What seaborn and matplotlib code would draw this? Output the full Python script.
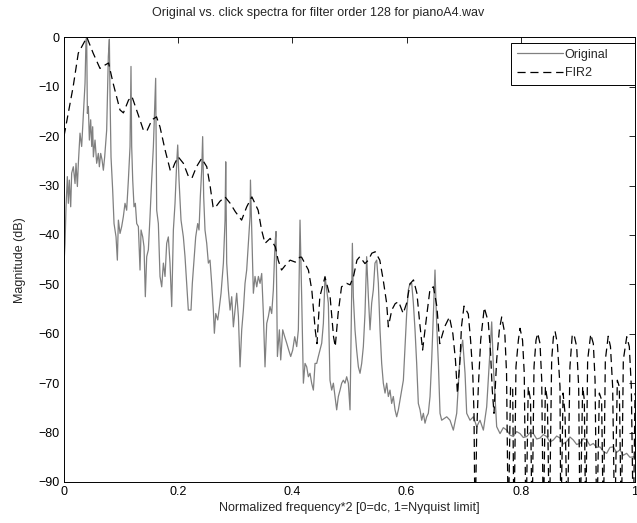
import matplotlib
matplotlib.use("Agg")
import matplotlib.pyplot as plt
import seaborn as sns
import pandas as pd

# values
orig_freq = [
    0.000, 0.0018, 0.0035, 0.0058, 0.0076, 0.0093, 0.0117, 0.0134, 0.0163, 0.0193,
    0.0210, 0.0234, 0.0251, 0.0280, 0.0309, 0.0339, 0.0368, 0.0385, 0.0397, 0.0409,
    0.0426, 0.0444, 0.0467, 0.0485, 0.0502, 0.0514, 0.0543, 0.0572, 0.0601, 0.0619,
    0.0642, 0.0666, 0.0689, 0.0712, 0.0747, 0.0776, 0.0794, 0.0806, 0.0823, 0.0852,
    0.0876, 0.0911, 0.0934, 0.0952, 0.0981, 0.1010, 0.1039, 0.1068, 0.1097, 0.1127,
    0.1156, 0.1173, 0.1185, 0.1203, 0.1226, 0.1249, 0.1273, 0.1302, 0.1331, 0.1349,
    0.1378, 0.1401, 0.1424, 0.1448, 0.1477, 0.1506, 0.1535, 0.1565, 0.1605,
    0.1623, 0.1652, 0.1681, 0.1711, 0.1740, 0.1769, 0.1798, 0.1827, 0.1856, 0.1886,
    0.1915, 0.1944, 0.1973, 0.1991, 0.2014, 0.2049, 0.2090, 0.2119, 0.2148, 0.2177,
    0.2224, 0.2247, 0.2282, 0.2306, 0.2341, 0.2364, 0.2387, 0.2411, 0.2428, 0.2446,
    0.2469, 0.2499, 0.2528, 0.2557, 0.2586, 0.2615, 0.2633, 0.2657, 0.2692, 0.2715,
    0.2750, 0.2791, 0.2820, 0.2832, 0.2849, 0.2878, 0.2908, 0.2937, 0.2966, 0.2995,
    0.3024, 0.3054, 0.3083, 0.3112, 0.3141, 0.3170, 0.3199, 0.3229, 0.3258, 0.3265,
    0.3287, 0.3316, 0.3345, 0.3375, 0.3404, 0.3433, 0.3462, 0.3491, 0.3520, 0.3550,
    0.3579, 0.3608, 0.3637, 0.3666, 0.3695, 0.3713, 0.3737, 0.3772, 0.3795, 0.3830,
    0.3865, 0.3900, 0.3935, 0.3970, 0.4005, 0.4040, 0.4075, 0.4104, 0.4133, 0.4162,
    0.4192, 0.4221, 0.4250, 0.4279, 0.4308, 0.4337, 0.4367, 0.4396, 0.4425, 0.4454,
    0.4483, 0.4513, 0.4542, 0.4571, 0.4600, 0.4629, 0.4658, 0.4688, 0.4717, 0.4746,
    0.4775, 0.4804, 0.4834, 0.4863, 0.4892, 0.4921, 0.4950, 0.4979,
    0.5009, 0.5038, 0.5050, 0.5067, 0.5096, 0.5125, 0.5155, 0.5184, 0.5213, 0.5242,
    0.5271, 0.5300, 0.5330, 0.5359, 0.5388, 0.5417, 0.5446, 0.5476, 0.5505, 0.5534,
    0.5563, 0.5592, 0.5622, 0.5651, 0.5680, 0.5709, 0.5738, 0.5767, 0.5797, 0.5826,
    0.5855, 0.5884, 0.5913, 0.5943, 0.5972, 0.6001, 0.6030, 0.6059, 0.6089, 0.6118,
    0.6147, 0.6176, 0.6205, 0.6235, 0.6264, 0.6293, 0.6322, 0.6351, 0.6380, 0.6410,
    0.6439, 0.6468, 0.6497, 0.6526, 0.6556, 0.6585, 0.6614,
    0.6702, 0.6760, 0.6818, 0.6877, 0.6935, 0.6982, 0.7023, 0.7052, 0.7110, 0.7169,
    0.7227, 0.7285, 0.7344, 0.7402, 0.7461, 0.7490, 0.7519, 0.7577, 0.7636, 0.7694,
    0.7752, 0.7811, 0.7869, 0.7927, 0.7986, 0.8044, 0.8103, 0.8161, 0.8219, 0.8278,
    0.8336, 0.8394, 0.8453, 0.8511, 0.8569, 0.8628, 0.8686, 0.8744, 0.8803, 0.8861,
    0.8919, 0.8978, 0.9036, 0.9094, 0.9153, 0.9211, 0.9269, 0.9328, 0.9386, 0.9444,
    0.9503, 0.9561, 0.9619, 0.9678, 0.9736, 0.9794, 0.9853, 0.9911, 0.9969, 1.0,
]
orig_db = [
    -45.7, -41.7, -34.3, -28.2, -33.6, -28.9, -34.3, -27.5, -26.2, -29.6,
    -25.5, -30.2, -25.5, -19.4, -22.1, -15.4, -9.3, -0.5, 0.0, -15.4,
    -14.0, -20.8, -16.7, -22.1, -18.1, -24.2, -20.8, -25.5, -23.5, -26.2,
    -23.5, -24.8, -26.9, -24.2, -18.8, -3.9, -0.4, -12.0, -24.2, -30.9,
    -37.7, -40.4, -45.1, -37.0, -39.7, -38.3, -36.3, -33.6, -35.0, -28.9,
    -22.1, -5.9, -22.1, -28.9, -34.3, -33.6, -37.7, -38.3, -47.1, -39.0,
    -40.4, -42.4, -52.5, -44.4, -43.0, -36.3, -28.9, -22.1, -8.3,
    -35.0, -37.7, -48.4, -50.5, -45.7, -48.4, -41.7, -40.4, -45.7, -54.5,
    -39.0, -33.6, -25.5, -21.8, -28.9, -37.0, -40.4, -44.4, -49.8, -55.2,
    -55.2, -49.8, -44.4, -40.4, -37.7, -39.0, -32.3, -26.9, -20.1, -32.3,
    -39.0, -41.7, -45.7, -45.1, -49.8, -55.2, -59.9, -55.9, -57.2, -55.2,
    -51.8, -45.7, -37.0, -25.2, -45.7, -51.1, -55.2, -52.5, -58.6, -55.2,
    -51.8, -56.5, -66.7, -59.2, -55.2, -49.8, -47.1, -41.7, -36.3, -28.9,
    -39.0, -51.8, -48.4, -50.5, -48.4, -49.8, -47.8, -55.9, -66.7, -57.9,
    -56.5, -54.5, -55.9, -51.1, -41.7, -39.3, -64.6, -59.2, -65.3, -59.2,
    -60.6, -61.9, -63.3, -64.6, -63.3, -60.6, -62.6, -59.2, -37.0, -52.5,
    -70.0, -66.0, -66.7, -68.7, -68.0, -70.0, -71.4, -66.0, -66.0, -64.6,
    -63.3, -61.9, -57.9, -48.4, -51.1, -53.8, -69.4, -71.4, -70.0, -72.7,
    -75.4, -72.7, -71.4, -70.0, -69.4, -70.0, -68.7, -70.0,
    -75.4, -51.1, -41.7, -52.5, -59.2, -63.3, -66.7, -68.0, -66.0, -62.6,
    -55.9, -44.4, -52.5, -59.2, -53.8, -51.1, -45.7, -45.1, -49.8, -59.2,
    -66.0, -70.0, -72.0, -70.0, -72.7, -71.4, -74.1, -72.7, -75.4, -76.8,
    -75.4, -73.4, -71.4, -69.4, -62.6, -55.9, -51.1, -49.8, -49.8, -53.8,
    -59.2, -66.0, -74.1, -75.4, -77.5, -76.1, -78.1, -76.8, -76.1, -72.7,
    -65.3, -55.9, -47.1, -57.9, -66.0, -76.1, -77.5,
    -76.8, -77.5, -79.5, -76.1, -64.6, -61.3, -68.0, -76.1, -77.5, -76.8,
    -78.8, -77.5, -79.5, -74.8, -63.3, -57.6, -66.6, -78.8, -80.2, -79.0,
    -79.5, -80.5, -80.8, -79.8, -80.2, -81.0, -80.8, -80.0, -80.2, -81.3,
    -81.1, -80.4, -80.8, -81.9, -81.5, -80.7, -81.1, -82.3, -81.8, -80.9,
    -81.5, -82.4, -82.2, -81.2, -81.5, -82.6, -82.2, -83.0, -82.9, -83.8,
    -84.2, -83.0, -82.9, -84.0, -83.5, -84.6, -84.2, -85.0, -84.9, -85.0,
]

fir_freq = [
    0.000, 0.016, 0.025, 0.040, 0.051, 0.063, 0.072, 0.078, 0.086, 0.092,
    0.098, 0.104, 0.113, 0.119, 0.130, 0.139, 0.145, 0.154, 0.162,
    0.168, 0.177, 0.186, 0.189, 0.194, 0.200, 0.209, 0.218, 0.224, 0.232,
    0.241, 0.250, 0.256, 0.261, 0.264, 0.273, 0.282, 0.291, 0.300, 0.311,
    0.320, 0.329, 0.340, 0.346, 0.352, 0.361, 0.370, 0.375, 0.381, 0.390,
    0.396, 0.405, 0.413, 0.416, 0.428, 0.434, 0.440, 0.443, 0.448, 0.457,
    0.466, 0.472, 0.475, 0.480, 0.486, 0.495, 0.501, 0.507, 0.513, 0.518,
    0.527, 0.533, 0.539, 0.545, 0.553, 0.559, 0.565, 0.568, 0.574, 0.580,
    0.586, 0.594, 0.600, 0.606, 0.612, 0.618, 0.623, 0.628, 0.635, 0.641,
    0.647, 0.653, 0.658, 0.6665, 0.675, 0.681, 0.6855, 0.689, 0.6935, 0.696,
    0.7005, 0.708, 0.712, 0.7158, 0.718, 0.7198, 0.7227, 0.7256, 0.7297, 0.736,
    0.743, 0.747, 0.750, 0.753, 0.7577, 0.7624, 0.7665, 0.772, 0.775, 0.778,
    0.782, 0.7857, 0.788, 0.7915, 0.7957, 0.7986, 0.803, 0.806, 0.809, 0.813,
    0.817, 0.8196, 0.8231, 0.8266, 0.8296, 0.8336, 0.8366, 0.8395, 0.843, 0.8465,
    0.850, 0.854, 0.857, 0.860, 0.864, 0.8686, 0.870, 0.874, 0.8774, 0.8815,
    0.886, 0.890, 0.893, 0.8978, 0.9013, 0.9037, 0.9083, 0.9112, 0.9136, 0.917,
    0.9224, 0.927, 0.930, 0.933, 0.9375, 0.9415, 0.9445, 0.948, 0.953, 0.957,
    0.9608, 0.9644, 0.969, 0.9725, 0.976, 0.9795, 0.9855, 0.990, 0.9935, 0.997,
    1.0,
]
fir_db = [
    -20.0, -10.0, -3.2, 0.0, -3.2, -6.3, -5.6, -5.2, -9.3, -12.0,
    -14.7, -15.3, -12.7, -12.0, -15.7, -18.8, -19.0, -16.7, -16.1,
    -18.1, -22.8, -26.9, -27.0, -25.5, -24.2, -25.5, -28.2, -28.5, -26.2,
    -24.5, -26.2, -30.2, -34.3, -34.6, -33.2, -32.3, -33.6, -35.3, -37.0,
    -34.3, -32.3, -35.0, -39.0, -41.7, -40.7, -42.4, -45.1, -47.1, -45.8,
    -45.1, -45.5, -44.5, -44.5, -47.1, -51.2, -59.3, -62.0, -52.5, -48.5,
    -52.5, -60.6, -62.6, -55.9, -50.5, -49.8, -50.1, -48.4, -45.1, -44.4,
    -45.8, -45.1, -43.7, -43.4, -45.1, -49.1, -53.8, -58.6, -55.2, -53.9,
    -53.5, -55.9, -53.8, -49.9, -49.1, -51.8, -57.9, -63.3, -56.5, -50.9,
    -50.5, -54.5, -62.0, -58.6, -56.6, -60.0, -65.3, -72.1, -65.3, -58.6,
    -54.4, -56.0, -61.3, -68.0, -76.1, -100.0, -80.2, -70.7, -61.3, -54.7,
    -57.6, -63.9, -71.4, -76.1, -65.3, -59.2, -56.6, -60.0, -68.0, -100.0,
    -70.7, -70.7, -100.0, -66.7, -61.3, -58.9, -61.3, -68.0, -100.0, -70.7,
    -73.4, -100.0, -66.7, -61.3, -59.9, -62.0, -69.4, -100.0, -70.7, -73.4,
    -100.0, -65.3, -60.7, -59.5, -62.0, -70.7, -100.0, -72.0, -76.1, -100.0,
    -66.7, -60.3, -60.1, -62.6, -70.7, -100.0, -70.7, -73.4, -100.0, -65.3,
    -60.1, -62.0, -69.4, -100.0, -72.0, -73.4, -100.0, -65.3, -60.5, -62.6,
    -70.7, -100.0, -69.4, -70.7, -100.0, -65.3, -60.6, -62.6, -70.7, -100.0,
    -72.0,
]

df_orig = pd.DataFrame({"freq": orig_freq, "db": orig_db})
df_fir = pd.DataFrame({"freq": fir_freq, "db": fir_db})

DASH = [6.5, 3.8]

sns.set_style("white")
plt.rcParams["font.family"] = ["Liberation Sans Narrow", "Liberation Sans", "DejaVu Sans"]
plt.rcParams["font.size"] = 9

fig = plt.figure(figsize=(6.37, 5.23), dpi=100)
ax = fig.add_axes([0.1005, 0.0784, 0.8964, 0.8503])

sns.lineplot(data=df_orig, x="freq", y="db", ax=ax, color="#808080",
             linewidth=0.9, estimator=None, sort=False, label="Original")
sns.lineplot(data=df_fir, x="freq", y="db", ax=ax, color="black",
             linewidth=0.9, estimator=None, sort=False, label="FIR2",
             dashes=False)
ax.lines[1].set_dashes(DASH)

ax.set_xlim(0, 1)
ax.set_ylim(-90, 0)
ax.set_xticks([0, 0.2, 0.4, 0.6, 0.8, 1])
ax.set_xticklabels(["0", "0.2", "0.4", "0.6", "0.8", "1"])
ax.set_yticks(range(-90, 1, 10))
ax.tick_params(direction="in", length=4, width=0.6, top=True, right=True,
               labelsize=9, pad=3, colors="black")
for s in ax.spines.values():
    s.set_color("black")
    s.set_linewidth(0.7)

ax.set_xlabel("Normalized frequency*2 [0=dc, 1=Nyquist limit]", fontsize=9, labelpad=3)
ax.set_ylabel("Magnitude (dB)", fontsize=9, labelpad=9)
fig.text(318 / 637, 1 - 13 / 523, "Original vs. click spectra for filter order 128 for pianoA4.wav",
         ha="center", va="center", fontsize=9)

leg = ax.legend(loc="upper right", bbox_to_anchor=(0.783, 0.888, 0.217, 0.099),
                mode="expand", frameon=True, fancybox=False, framealpha=1,
                edgecolor="black", fontsize=9, handlelength=3.7, borderaxespad=0,
                borderpad=0.45, labelspacing=0.5, handletextpad=0.15)
leg.get_frame().set_linewidth(0.7)
leg.get_lines()[1].set_dashes(DASH)

fig.savefig("out.png", dpi=100)
